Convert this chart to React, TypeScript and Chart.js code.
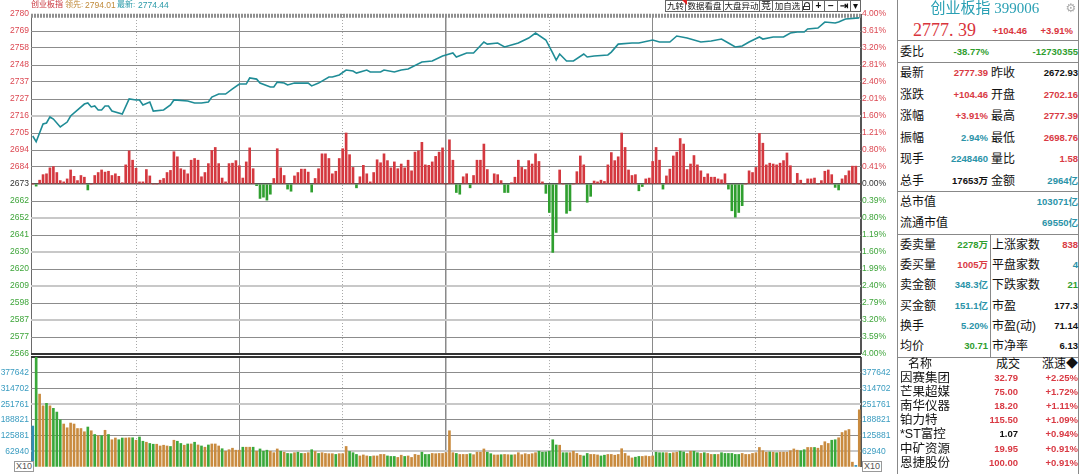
import { useEffect, useRef } from 'react'
import { Chart, registerables } from 'chart.js'

Chart.register(...registerables)

const PREV_CLOSE = 2672.93

// intraday index line: minute of session (0..240) and index level
const priceMinutes = [
  0, 1, 3, 4, 5, 6, 8, 10, 11, 15, 16, 17, 18, 19, 20, 21, 22, 23, 26, 28,
  30, 31, 32, 34, 35, 38, 40, 41, 45, 47, 49, 51, 52, 54, 56, 58, 60, 62, 63, 65,
  66, 69, 70, 71, 73, 74, 76, 80, 81, 83, 86, 87, 89, 91, 93, 94, 97, 98, 101, 102,
  105, 107, 109, 113, 116, 119, 120, 122, 123, 126, 128, 131, 132, 135, 137, 139, 141, 144, 146, 149,
  151, 152, 153, 155, 157, 160, 161, 163, 167, 168, 170, 174, 176, 180, 182, 185, 187, 190, 194, 197,
  200, 202, 204, 206, 208, 211, 212, 215, 218, 220, 222, 224, 225, 228, 230, 233, 234, 236, 240,
]
const prices = [
  2703.1, 2699.5, 2710.7, 2711.3, 2715.1, 2713.8, 2708.8, 2711.9, 2715.7, 2723.2, 2723.9, 2721.4, 2722.0, 2719.5, 2719.5, 2722.0, 2722.0, 2718.8, 2716.9, 2726.4,
  2725.8, 2725.8, 2722.6, 2724.5, 2718.8, 2719.5, 2722.6, 2725.8, 2725.1, 2723.9, 2723.9, 2724.5, 2727.6, 2729.5, 2729.5, 2732.7, 2735.8, 2735.8, 2739.6, 2738.9,
  2736.4, 2733.9, 2733.9, 2737.0, 2736.4, 2735.2, 2736.4, 2736.4, 2734.6, 2736.4, 2740.2, 2740.2, 2741.5, 2744.6, 2744.0, 2742.7, 2744.6, 2743.4, 2743.4, 2744.6,
  2743.4, 2744.6, 2745.3, 2749.7, 2750.3, 2753.4, 2754.1, 2755.3, 2752.8, 2755.3, 2755.3, 2762.2, 2760.9, 2761.6, 2759.1, 2760.3, 2761.6, 2764.7, 2767.9, 2763.5,
  2755.3, 2750.9, 2754.7, 2750.3, 2750.3, 2754.7, 2752.8, 2753.4, 2754.1, 2755.9, 2760.9, 2761.6, 2761.6, 2763.5, 2762.2, 2762.2, 2766.0, 2764.7, 2762.2, 2762.9,
  2764.1, 2761.6, 2759.1, 2759.7, 2762.2, 2765.4, 2764.1, 2765.4, 2765.4, 2767.9, 2768.5, 2768.5, 2770.4, 2771.0, 2774.8, 2774.2, 2774.8, 2776.7, 2777.39,
]

// red / green strength bars per minute, in % (same scale as the right axis)
const strength = [
  0, -0.05, 0.09, 0.22, 0.24, 0.38, 0.41, 0.27, 0.08, 0.05,
  0.12, 0.33, 0.18, 0.08, 0.2, 0.16, -0.14, 0, 0.2, 0.27,
  0.33, 0.28, 0.3, 0.2, 0.24, 0.18, 0.03, 0.45, 0.78, 0.56,
  0.37, 0.05, 0.05, 0.34, 0.19, 0, 0, 0.09, 0.13, 0.27,
  0.32, 0.76, 0.64, 0.36, 0.33, 0.24, 0.56, 0.6, 0.56, 0.17,
  0.27, 0.48, 0.79, 0.86, 0.48, 0.14, 0.05, 0.48, 0.49, 0.55,
  0.43, 0.14, 0.52, 0.85, 0.36, -0.04, -0.34, -0.31, -0.38, -0.24,
  0.13, 0.83, 0.38, 0.2, -0.12, -0.17, 0.19, 0.27, 0.35, 0.35,
  0.28, -0.19, 0.13, 0.36, 0.71, 0.71, 0.6, 0.24, 0.3, 0.6,
  0.83, 1.2, 0.69, 0.39, -0.09, 0.17, 0.44, 0.24, 0.05, 0.27,
  0.57, 0.5, 0.71, 0.55, 0.38, 0.52, 0.36, 0.47, 0.38, 0.56,
  0.31, 0.75, 0.78, 0.98, 0.45, 0.44, 0.52, 0.65, 0.75, 0.85,
  0, 1.04, 0.56, -0.2, -0.24, 0.17, 0.24, -0.09, 0.2, 0.56,
  0.56, 0.94, 0.34, 0, 0.24, 0.22, 0.08, -0.2, -0.2, 0.03,
  0.16, 0.56, 0.39, 0.34, 0.55, 0.47, 0.71, 0.53, 0.05, -0.22,
  -0.67, -1.61, -1.14, 0.33, 0, -0.69, -0.63, 0, 0.29, 0.66,
  0.45, -0.43, -0.29, 0.07, 0.05, 0.09, 0.06, 0.45, 0.74, 0.55,
  0.64, 1.2, 0.86, 0.33, 0.2, 0.22, -0.16, -0.06, 0.12, 0.14,
  0.53, 0.86, 0.56, -0.12, 0.19, 0.35, 0.66, 0.75, 1.07, 0.94,
  0.34, 0.47, 0.67, 0.45, 0.31, 0.16, 0.24, 0.16, 0.16, 0.12,
  0.1, 0.24, -0.12, -0.63, -0.78, -0.67, -0.51, 0, 0.31, 0.27,
  0.39, 1.19, 0.96, 0.45, 0.49, 0.47, 0.45, 0.49, 0.55, 0.73,
  0.43, 0, 0.25, 0.09, 0, 0.12, 0.12, 0.14, 0, 0.08,
  0.3, 0.33, 0.22, -0.08, -0.14, 0.12, 0.2, 0.31, 0.42, 0.42,
  0,
]

// volume per minute (thousand lots)
const volumes = [
  164, 445, 292, 245, 255, 245, 235, 220, 189, 172,
  157, 176, 172, 154, 154, 141, 160, 145, 130, 125,
  125, 147, 130, 109, 116, 109, 116, 116, 117, 117,
  107, 120, 103, 99, 94, 91, 91, 84, 87, 84,
  82, 107, 103, 94, 87, 92, 92, 99, 88, 84,
  79, 88, 92, 92, 84, 73, 63, 69, 75, 67,
  67, 79, 79, 79, 79, 63, 72, 63, 67, 63,
  57, 72, 63, 59, 54, 53, 57, 59, 54, 54,
  57, 69, 62, 54, 57, 54, 53, 53, 50, 53,
  53, 82, 62, 57, 50, 44, 48, 44, 42, 44,
  44, 50, 50, 44, 42, 42, 38, 47, 42, 44,
  38, 50, 47, 59, 50, 50, 54, 53, 54, 54,
  57, 145, 57, 54, 50, 50, 50, 53, 49, 59,
  59, 72, 59, 53, 48, 48, 49, 50, 49, 48,
  49, 57, 49, 53, 50, 53, 57, 63, 59, 60,
  63, 109, 88, 87, 57, 57, 57, 63, 54, 47,
  44, 54, 50, 50, 48, 44, 47, 50, 50, 47,
  50, 73, 54, 44, 36, 39, 42, 42, 44, 42,
  44, 59, 57, 57, 57, 54, 57, 59, 63, 60,
  54, 63, 63, 57, 54, 57, 54, 50, 50, 50,
  57, 54, 54, 54, 50, 50, 54, 50, 50, 54,
  57, 78, 65, 59, 60, 59, 57, 59, 59, 59,
  65, 72, 67, 65, 69, 78, 78, 78, 75, 86,
  101, 94, 107, 109, 117, 138, 145, 150, 19, 6,
  229,
]
// 1 = minute closed up, -1 = down, 0 = auction / flat
const volumeDir = [
  0, -1, 1, 1, -1, 1, -1, -1, -1, 1,
  1, 1, 1, 1, 1, 1, -1, 1, -1, 1,
  -1, 1, -1, 1, 1, -1, -1, 1, 1, -1,
  1, -1, -1, 1, -1, -1, 1, 1, 1, 1,
  -1, 1, -1, -1, 1, -1, 1, -1, 1, -1,
  1, -1, 1, 1, 1, -1, 1, 1, 1, 1,
  1, -1, 1, 1, -1, 1, -1, -1, -1, 1,
  1, 1, -1, 1, -1, -1, 1, -1, -1, 1,
  1, -1, 1, -1, 1, 1, 1, 1, -1, 1,
  1, 1, -1, -1, -1, 1, 1, 1, -1, 1,
  1, 1, 1, -1, -1, -1, 1, 1, -1, 1,
  1, 1, 1, -1, -1, -1, 1, 1, 1, 1,
  1, 1, 1, -1, 1, 1, 1, -1, 1, 1,
  1, 1, -1, -1, 1, 1, -1, 1, 1, -1,
  1, 1, 1, 1, 1, 1, 1, -1, -1, -1,
  -1, -1, -1, 1, -1, -1, 1, 1, 1, 1,
  -1, -1, 1, 1, 1, -1, -1, 1, 1, 1,
  1, 1, 1, 1, 1, -1, -1, 1, 1, 1,
  1, -1, -1, -1, 1, -1, 1, 1, -1, -1,
  1, 1, -1, -1, 1, -1, 1, 1, -1, 1,
  -1, -1, -1, -1, -1, -1, 1, 1, 1, 1,
  1, 1, 1, 1, -1, 1, -1, 1, 1, 1,
  1, 1, 1, -1, -1, 1, 1, -1, 1, 1,
  1, 1, -1, -1, 1, 1, 1, 1, 1, 0,
  1,
]

const priceTickLabels = ['2780', '2769', '2758', '2748', '2737', '2727', '2716', '2705', '2694', '2684', '2673', '2662', '2652', '2641', '2630', '2620', '2609', '2598', '2587', '2577', '2566']
const pctTickLabels = ['4.00%', '3.61%', '3.20%', '2.81%', '2.40%', '2.01%', '1.60%', '1.21%', '0.80%', '0.41%', '0.00%', '0.39%', '0.80%', '1.19%', '1.60%', '1.99%', '2.40%', '2.79%', '3.20%', '3.59%', '4.00%']
const volumeTickLabels = ['', '62940', '125881', '188821', '251761', '314702', '377642', '']
const VOL_STEP = 62.94033

// side panel
const quoteRows = [
  ['最新', '2777.39', 'r', '昨收', '2672.93', 'k'],
  ['涨跌', '+104.46', 'r', '开盘', '2702.16', 'r'],
  ['涨幅', '+3.91%', 'r', '最高', '2777.39', 'r'],
  ['振幅', '2.94%', 't', '最低', '2698.76', 'r'],
  ['现手', '2248460', 't', '量比', '1.58', 'r'],
  ['总手', '17653万', 'k', '金额', '2964亿', 't'],
]
const capRows = [
  ['总市值', '103071亿'],
  ['流通市值', '69550亿'],
]
const orderRows = [
  ['委卖量', '2278万', 'g', '上涨家数', '838', 'r'],
  ['委买量', '1005万', 'r', '平盘家数', '4', 't'],
  ['卖金额', '348.3亿', 't', '下跌家数', '21', 'g'],
  ['买金额', '151.1亿', 't', '市盈', '177.3', 'k'],
  ['换手', '5.20%', 't', '市盈(动)', '71.14', 'k'],
  ['均价', '30.71', 'g', '市净率', '6.13', 'k'],
]
const leaders = [
  ['因赛集团', '32.79', '+2.25%', 'r'],
  ['芒果超媒', '75.00', '+1.72%', 'r'],
  ['南华仪器', '18.20', '+1.11%', 'r'],
  ['铂力特', '115.50', '+1.09%', 'r'],
  ['*ST富控', '1.07', '+0.94%', 'k'],
  ['中矿资源', '19.95', '+0.91%', 'r'],
  ['恩捷股份', '100.00', '+0.91%', 'r'],
]
const toolButtons: [string, number, number][] = [
  ['九转', 665, 21], ['数据看盘', 685, 39], ['大盘异动', 723, 37], ['竞', 759, 14],
  ['加自选', 772, 31], ['', 802, 11], ['+', 812, 13], ['−', 824, 14], ['⇥', 837, 14], ['▾', 850, 11],
]

const RED = '#dc4852'
const GREEN = '#3ea53a'
const TXT: Record<string, string> = { r: '#d93a44', g: '#2f9e2f', t: '#2a93a8', k: '#111' }
const TICK_FONT = { family: '"Liberation Sans", Arial, sans-serif', size: 8.5 }
const NUM_FONT = '"Liberation Sans", "Noto Sans CJK SC", sans-serif'
const GRID_DARK = '#8c8c8c'
const GRID_LIGHT = '#c8c8c8'

const near = (a: number, b: number) => Math.abs(a - b) < 0.01
const sideColor = (v: number) => (v > 0.01 ? RED : v < -0.01 ? GREEN : '#333')
const lightPriceLines = [1.6, -0.8, -1.6, -2.4, -3.2]
const priceLevels = Array.from({ length: 21 }, (_, k) => Math.round((-4 + 0.4 * k) * 10) / 10)

// grey dotted band along the top edge of the price pane
const topStrip = {
  id: 'topStrip',
  beforeDatasetsDraw(chart: any) {
    const { ctx, chartArea, scales } = chart
    const y = scales.y.getPixelForValue(3.96)
    ctx.save()
    ctx.strokeStyle = '#8f8f8f'
    ctx.lineWidth = 4
    ctx.setLineDash([2, 1])
    ctx.beginPath()
    ctx.moveTo(chartArea.left, y)
    ctx.lineTo(chartArea.right, y)
    ctx.stroke()
    ctx.restore()
  },
}

function timeAxes() {
  return {
    x: {
      type: 'linear', min: -0.5, max: 240.5, offset: false,
      afterBuildTicks: (s: any) => { s.ticks = [-0.5, 60, 120, 180, 240.5].map((value) => ({ value })) },
      ticks: { display: false },
      grid: {
        offset: false, drawTicks: false,
        color: (c: any) => (c.tick.value < 0 ? '#6a6a6a' : c.tick.value > 240 ? '#555' : '#8a8a8a'),
        lineWidth: (c: any) => (c.tick.value > 240 ? 2 : c.tick.value === 120 ? 1.5 : 1),
      },
      border: { display: false },
    },
    x2: {
      type: 'linear', axis: 'x', position: 'bottom', min: -0.5, max: 240.5, offset: false,
      afterBuildTicks: (s: any) => { s.ticks = [30, 90, 150, 210].map((value) => ({ value })) },
      ticks: { display: false },
      grid: { offset: false, drawTicks: false, color: '#a8a8a8', lineWidth: 1, borderDash: [1, 2] },
      border: { display: false, dash: [1, 2] },
    },
  }
}

function Txt({ x, y, text, color = '#111', size = 12, align = 'left', bold = false, font = NUM_FONT }: any) {
  const style: any = {
    position: 'absolute', top: y, transform: align === 'center' ? 'translate(-50%, -50%)' : 'translateY(-50%)',
    fontSize: size, lineHeight: 1, color, whiteSpace: 'nowrap', fontWeight: bold ? 700 : 400, fontFamily: font,
  }
  if (align === 'right') style.right = 1080 - x
  else style.left = x
  return <div style={style}>{text}</div>
}

function HLine({ y, x1 = 897, x2 = 1078 }: any) {
  return <div style={{ position: 'absolute', left: x1, top: y, width: x2 - x1, height: 1, background: '#888' }} />
}

export default function App() {
  const priceRef = useRef<HTMLCanvasElement>(null)
  const volRef = useRef<HTMLCanvasElement>(null)

  useEffect(() => {
    if (!priceRef.current || !volRef.current) return

    const priceChart = new Chart(priceRef.current, {
      type: 'line',
      data: {
        datasets: [
          {
            type: 'line',
            data: priceMinutes.map((m, i) => ({ x: m, y: (prices[i] / PREV_CLOSE - 1) * 100 })),
            borderColor: '#1f8c96',
            borderWidth: 1.6,
            pointRadius: 0,
            tension: 0,
            order: 0,
          },
          {
            type: 'bar',
            data: strength.map((v, i) => ({ x: i, y: v })),
            backgroundColor: (c: any) => ((c.raw?.y ?? 0) >= 0 ? '#d4383f' : '#2f9f2f'),
            barThickness: 2,
            borderWidth: 0,
            order: 1,
          },
        ],
      } as any,
      options: {
        responsive: false,
        animation: false,
        events: [],
        layout: { padding: { top: 14, bottom: 8, left: 0, right: 0 } },
        plugins: { legend: { display: false }, tooltip: { enabled: false } },
        scales: {
          ...timeAxes(),
          y: {
            type: 'linear', position: 'left', min: -4, max: 4,
            afterBuildTicks: (s: any) => { s.ticks = priceLevels.map((value) => ({ value })) },
            afterFit: (s: any) => { s.width = 31 },
            ticks: {
              autoSkip: false, padding: 2, font: TICK_FONT,
              callback: (_v: any, i: number) => priceTickLabels[20 - i],
              color: (c: any) => sideColor(c.tick.value),
            },
            grid: {
              drawTicks: false,
              color: (c: any) => {
                const v = c.tick.value
                if (v > 3.9) return 'rgba(0,0,0,0)'
                if (near(v, 0)) return '#555'
                if (v < -3.9) return '#333'
                return lightPriceLines.some((l) => near(v, l)) ? GRID_LIGHT : GRID_DARK
              },
              lineWidth: (c: any) => {
                const v = c.tick.value
                if (v < -3.9) return 2
                if (near(v, 0)) return 1.5
                return lightPriceLines.some((l) => near(v, l)) ? 2 : 1
              },
            },
            border: { display: false },
          },
          yR: {
            type: 'linear', axis: 'y', position: 'right', min: -4, max: 4,
            afterBuildTicks: (s: any) => { s.ticks = priceLevels.map((value) => ({ value })) },
            afterFit: (s: any) => { s.width = 34 },
            ticks: {
              autoSkip: false, padding: 1, font: TICK_FONT,
              callback: (_v: any, i: number) => pctTickLabels[20 - i],
              color: (c: any) => sideColor(c.tick.value),
            },
            grid: { drawOnChartArea: false, drawTicks: false },
            border: { display: false },
          },
        },
      } as any,
      plugins: [topStrip],
    })

    const volLevels = Array.from({ length: 8 }, (_, k) => k * VOL_STEP)
    const volChart = new Chart(volRef.current, {
      type: 'line',
      data: {
        datasets: [
          {
            type: 'bar',
            data: volumes.map((v, i) => ({ x: i, y: v })),
            backgroundColor: volumeDir.map((d) => (d > 0 ? '#c98b3f' : d < 0 ? '#3aa83a' : '#2f8fb6')),
            barThickness: 2,
            borderWidth: 0,
          },
        ],
      } as any,
      options: {
        responsive: false,
        animation: false,
        events: [],
        layout: { padding: { top: 4, bottom: 2, left: 0, right: 0 } },
        plugins: { legend: { display: false }, tooltip: { enabled: false } },
        scales: {
          ...timeAxes(),
          y: {
            type: 'linear', position: 'left', min: 0, max: 7 * VOL_STEP,
            afterBuildTicks: (s: any) => { s.ticks = volLevels.map((value) => ({ value })) },
            afterFit: (s: any) => { s.width = 31 },
            ticks: {
              autoSkip: false, padding: 2, font: TICK_FONT, color: '#3a9cc0',
              callback: (_v: any, i: number) => volumeTickLabels[i],
            },
            grid: {
              drawTicks: false,
              color: (c: any) => (c.index === 0 ? 'rgba(0,0,0,0)' : c.index === 7 ? '#333' : c.index === 1 || c.index === 4 ? GRID_LIGHT : GRID_DARK),
              lineWidth: (c: any) => (c.index === 7 || c.index === 1 || c.index === 4 ? 2 : 1),
            },
            border: { display: false },
          },
          yR: {
            type: 'linear', axis: 'y', position: 'right', min: 0, max: 7 * VOL_STEP,
            afterBuildTicks: (s: any) => { s.ticks = volLevels.map((value) => ({ value })) },
            afterFit: (s: any) => { s.width = 34 },
            ticks: {
              autoSkip: false, padding: 1, font: TICK_FONT, color: '#3a9cc0',
              callback: (_v: any, i: number) => volumeTickLabels[i],
            },
            grid: { drawOnChartArea: false, drawTicks: false },
            border: { display: false },
          },
        },
      } as any,
    })

    return () => {
      priceChart.destroy()
      volChart.destroy()
    }
  }, [])

  const boxStyle: any = {
    position: 'absolute', border: '1px solid #999', color: '#555', fontSize: 9, lineHeight: '9px',
    fontFamily: NUM_FONT, padding: '0 1px', background: '#fff',
  }

  return (
    <div style={{ position: 'fixed', left: 0, top: 0, width: 1080, height: 474, background: '#fff', overflow: 'hidden', fontFamily: NUM_FONT }}>
      <canvas ref={priceRef} width={895} height={362} style={{ position: 'absolute', left: 0, top: 0 }} />
      <canvas ref={volRef} width={895} height={124} style={{ position: 'absolute', left: 0, top: 350 }} />

      {/* header strip */}
      <Txt x={31} y={5} text="创业板指" color="#c8323a" size={8} />
      <Txt x={65} y={5} text="领先:" color="#c08a3a" size={8} />
      <Txt x={85} y={5} text="2794.01" color="#c08a3a" size={8.5} />
      <Txt x={117} y={5} text="最新:" color="#2a9aa8" size={8} />
      <Txt x={138} y={5} text="2774.44" color="#2a9aa8" size={8.5} />

      {toolButtons.map(([label, left, w]) => (
        <div key={left} style={{
          position: 'absolute', left, top: 0, width: w, height: 12, boxSizing: 'border-box', border: '1px solid #666',
          background: '#fff', fontSize: label.length > 1 ? 8.5 : 10, lineHeight: '10px', textAlign: 'center', color: '#111',
          whiteSpace: 'nowrap', overflow: 'hidden',
          fontWeight: label === '+' || label === '−' || label === '⇥' ? 700 : 400,
        }}>
          {label}
        </div>
      ))}
      <div style={{ position: 'absolute', left: 682, top: 0, width: 0, height: 0, borderLeft: '5px solid transparent', borderTop: '5px solid #e02020' }} />
      <div style={{ position: 'absolute', left: 804, top: 2, width: 4, height: 4, border: '1px solid #333', borderBottom: 'none', borderRadius: '3px 3px 0 0' }} />
      <div style={{ position: 'absolute', left: 803, top: 6, width: 7, height: 4, border: '1px solid #333', boxSizing: 'border-box' }} />

      {/* volume unit boxes */}
      <div style={{ ...boxStyle, left: 14, top: 461 }}>X10</div>
      <div style={{ ...boxStyle, left: 862, top: 461 }}>X10</div>

      {/* side panel */}
      <div style={{ position: 'absolute', left: 897, top: 0, width: 1, height: 474, background: '#888' }} />
      <div style={{ position: 'absolute', left: 1078, top: 0, width: 1, height: 474, background: '#888' }} />
      <div style={{ position: 'absolute', left: 990, top: 234, width: 1, height: 123, background: '#888' }} />

      <Txt x={985} y={8} text="创业板指 399006" color="#2aa0b4" size={15} align="center" font='"Liberation Serif", "Noto Sans CJK SC", serif' />
      <Txt x={1071} y={8} text="⚙" color="#aaa" size={12} align="center" font='"DejaVu Sans", sans-serif' />
      <Txt x={913} y={30} text="2777. 39" color="#d9343c" size={18} font='"Liberation Serif", serif' />
      <Txt x={1027} y={31} text="+104.46" color="#d9343c" size={9.5} bold align="right" />
      <Txt x={1073} y={31} text="+3.91%" color="#d9343c" size={9.5} bold align="right" />
      <HLine y={40} />

      <Txt x={900} y={52} text="委比" size={12} />
      <Txt x={989} y={52} text="-38.77%" color={TXT.g} size={9.5} bold align="right" />
      <Txt x={1078} y={52} text="-12730355" color={TXT.g} size={9.5} bold align="right" />
      <HLine y={62} />

      {quoteRows.map((r, i) => (
        <div key={r[0]}>
          <Txt x={900} y={73 + 21.5 * i} text={r[0]} size={12} />
          <Txt x={988} y={73 + 21.5 * i} text={r[1]} color={TXT[r[2]]} size={9.5} bold align="right" />
          <Txt x={991} y={73 + 21.5 * i} text={r[3]} size={12} />
          <Txt x={1078} y={73 + 21.5 * i} text={r[4]} color={TXT[r[5]]} size={9.5} bold align="right" />
        </div>
      ))}
      <HLine y={191} />

      {capRows.map((r, i) => (
        <div key={r[0]}>
          <Txt x={900} y={202 + 21 * i} text={r[0]} size={12} />
          <Txt x={1078} y={202 + 21 * i} text={r[1]} color={TXT.t} size={9.5} bold align="right" />
        </div>
      ))}
      <HLine y={234} />

      {orderRows.map((r, i) => (
        <div key={r[0]}>
          <Txt x={900} y={245 + 20.2 * i} text={r[0]} size={12} />
          <Txt x={988} y={245 + 20.2 * i} text={r[1]} color={TXT[r[2]]} size={9.5} bold align="right" />
          <Txt x={992} y={245 + 20.2 * i} text={r[3]} size={12} />
          <Txt x={1078} y={245 + 20.2 * i} text={r[4]} color={TXT[r[5]]} size={9.5} bold align="right" />
        </div>
      ))}
      <HLine y={357} />

      <Txt x={920} y={364} text="名称" size={12} align="center" />
      <Txt x={1008} y={364} text="成交" size={12} align="center" />
      <Txt x={1078} y={364} text="涨速◆" size={12} align="right" />
      {leaders.map((r, i) => (
        <div key={r[0]}>
          <Txt x={900} y={378 + 14.1 * i} text={r[0]} size={12.5} />
          <Txt x={1018} y={378 + 14.1 * i} text={r[1]} color={TXT[r[3]]} size={9.5} bold align="right" />
          <Txt x={1078} y={378 + 14.1 * i} text={r[2]} color={TXT.r} size={9.5} bold align="right" />
        </div>
      ))}
    </div>
  )
}
